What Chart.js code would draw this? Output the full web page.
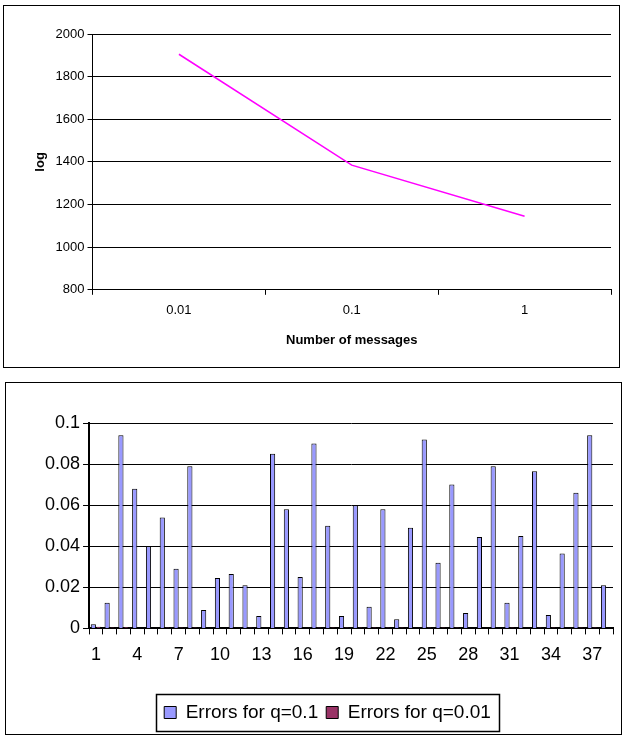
<!DOCTYPE html>
<html><head><meta charset="utf-8">
<script src="https://cdn.jsdelivr.net/npm/chart.js@4/dist/chart.umd.min.js"></script>
<style>
body{margin:0;background:#fff;font-family:"Liberation Sans",Arial,sans-serif}
.box{position:absolute;border:1px solid #000;box-sizing:border-box;background:#fff}
</style></head><body>
<div class="box" style="left:3px;top:5px;width:617px;height:363px"><canvas id="c1"></canvas></div>
<div class="box" style="left:5px;top:382px;width:617px;height:353px"><canvas id="c2"></canvas></div>
<script>
const lineLabels = ['0.01', '0.1', '1'];
const lineValues = [1905, 1385, 1145];

const barLabels = Array.from({length: 38}, (_, i) => String(i + 1));
const errorsQ1 = [0.002, 0.0125, 0.094, 0.068, 0.04, 0.054, 0.029, 0.079, 0.009, 0.0245,
  0.0265, 0.021, 0.006, 0.085, 0.058, 0.025, 0.09, 0.05, 0.006, 0.06,
  0.0105, 0.058, 0.0045, 0.049, 0.092, 0.032, 0.07, 0.0075, 0.0445, 0.079,
  0.0125, 0.045, 0.0765, 0.0065, 0.0365, 0.066, 0.094, 0.021];
const errorsQ01 = [0.0008, 0.0005, 0.0007, 0, 0, 0.0005, 0.0005, 0.0005, 0, 0,
  0, 0.0005, 0, 0, 0, 0, 0.0005, 0.0005, 0.0005, 0.0005,
  0.0005, 0.0005, 0.0005, 0, 0.0005, 0.0005, 0.0005, 0, 0, 0,
  0.0005, 0, 0.0005, 0.0005, 0, 0.0005, 0.0005, 0];

const font = "'Liberation Sans', Arial, sans-serif";
Chart.defaults.font.family = font;
Chart.defaults.color = '#000';
Chart.defaults.animation = false;
Chart.defaults.responsive = false;

function sizeCanvas(id, w, h) {
  const c = document.getElementById(id);
  c.width = w; c.height = h;
  c.style.width = w + 'px'; c.style.height = h + 'px';
  return c;
}

// top: line chart
new Chart(sizeCanvas('c1', 615, 361), {
  type: 'line',
  data: {
    labels: lineLabels,
    datasets: [{ data: lineValues, borderColor: '#ff00ff', borderWidth: 1.5, pointRadius: 0, fill: false, tension: 0 }],
  },
  options: {
    layout: { padding: { top: 28, right: 8, bottom: 15, left: 25 } },
    plugins: { legend: { display: false }, tooltip: { enabled: false } },
    scales: {
      x: {
        offset: true,
        grid: { offset: true, drawOnChartArea: false, color: '#000', tickLength: 5 },
        border: { color: '#000' },
        ticks: { font: { size: 13 }, padding: 8 },
        title: { display: true, text: 'Number of messages', font: { size: 13, weight: 'bold' }, padding: { top: 6 } },
      },
      y: {
        min: 800, max: 2000,
        ticks: { stepSize: 200, font: { size: 13 }, callback: v => String(v) },
        grid: { color: '#000', tickLength: 5 },
        border: { color: '#000' },
        title: { display: true, text: 'log', font: { size: 13, weight: 'bold' } },
      },
    },
  },
});

// legend frame around the items only
const legendBox = {
  id: 'legendBox',
  afterDraw(chart) {
    const hb = chart.legend.legendHitBoxes;
    if (!hb || !hb.length) return;
    const left = Math.min(...hb.map(b => b.left)) - 8;
    const right = Math.max(...hb.map(b => b.left + b.width)) + 8;
    const top = hb[0].top - 9, h = hb[0].height + 18;
    const ctx = chart.ctx;
    ctx.save();
    ctx.strokeStyle = '#000';
    ctx.lineWidth = 1.5;
    ctx.strokeRect(Math.round(left) + 0.5, Math.round(top) + 0.5, Math.round(right - left), Math.round(h));
    ctx.restore();
  },
};

// bottom: bar chart
new Chart(sizeCanvas('c2', 615, 351), {
  type: 'bar',
  data: {
    labels: barLabels,
    datasets: [
      { label: 'Errors for q=0.1', data: errorsQ1, backgroundColor: '#9999ff', borderColor: '#000', borderWidth: 1 },
      { label: 'Errors for q=0.01', data: errorsQ01, backgroundColor: '#993366', borderColor: '#000', borderWidth: 1 },
    ],
  },
  options: {
    layout: { padding: { top: 40, right: 8, bottom: 2, left: 36 } },
    datasets: { bar: { categoryPercentage: 0.75, barPercentage: 1 } },
    plugins: {
      tooltip: { enabled: false },
      legend: {
        position: 'bottom',
        labels: { font: { size: 19 }, boxWidth: 12, boxHeight: 12, padding: 8,
          generateLabels: ch => ch.data.datasets.map((d, i) => ({ text: d.label, fillStyle: d.backgroundColor, strokeStyle: '#000', lineWidth: 1, datasetIndex: i })) },
      },
    },
    scales: {
      x: {
        grid: { offset: true, drawOnChartArea: false, color: '#000', tickLength: 6 },
        border: { color: '#000', width: 2 },
        ticks: { font: { size: 18 }, autoSkip: false, maxRotation: 0, padding: 10,
          callback: (v, i) => (i % 3 === 0 ? barLabels[i] : '') },
        afterFit: s => { s.height += 19; },
      },
      y: {
        min: 0, max: 0.1,
        ticks: { stepSize: 0.02, font: { size: 18 }, callback: v => String(+v.toFixed(2)) },
        grid: { color: '#000', tickLength: 6 },
        border: { color: '#000', width: 2 },
      },
    },
  },
  plugins: [legendBox],
});
</script>
</body></html>
